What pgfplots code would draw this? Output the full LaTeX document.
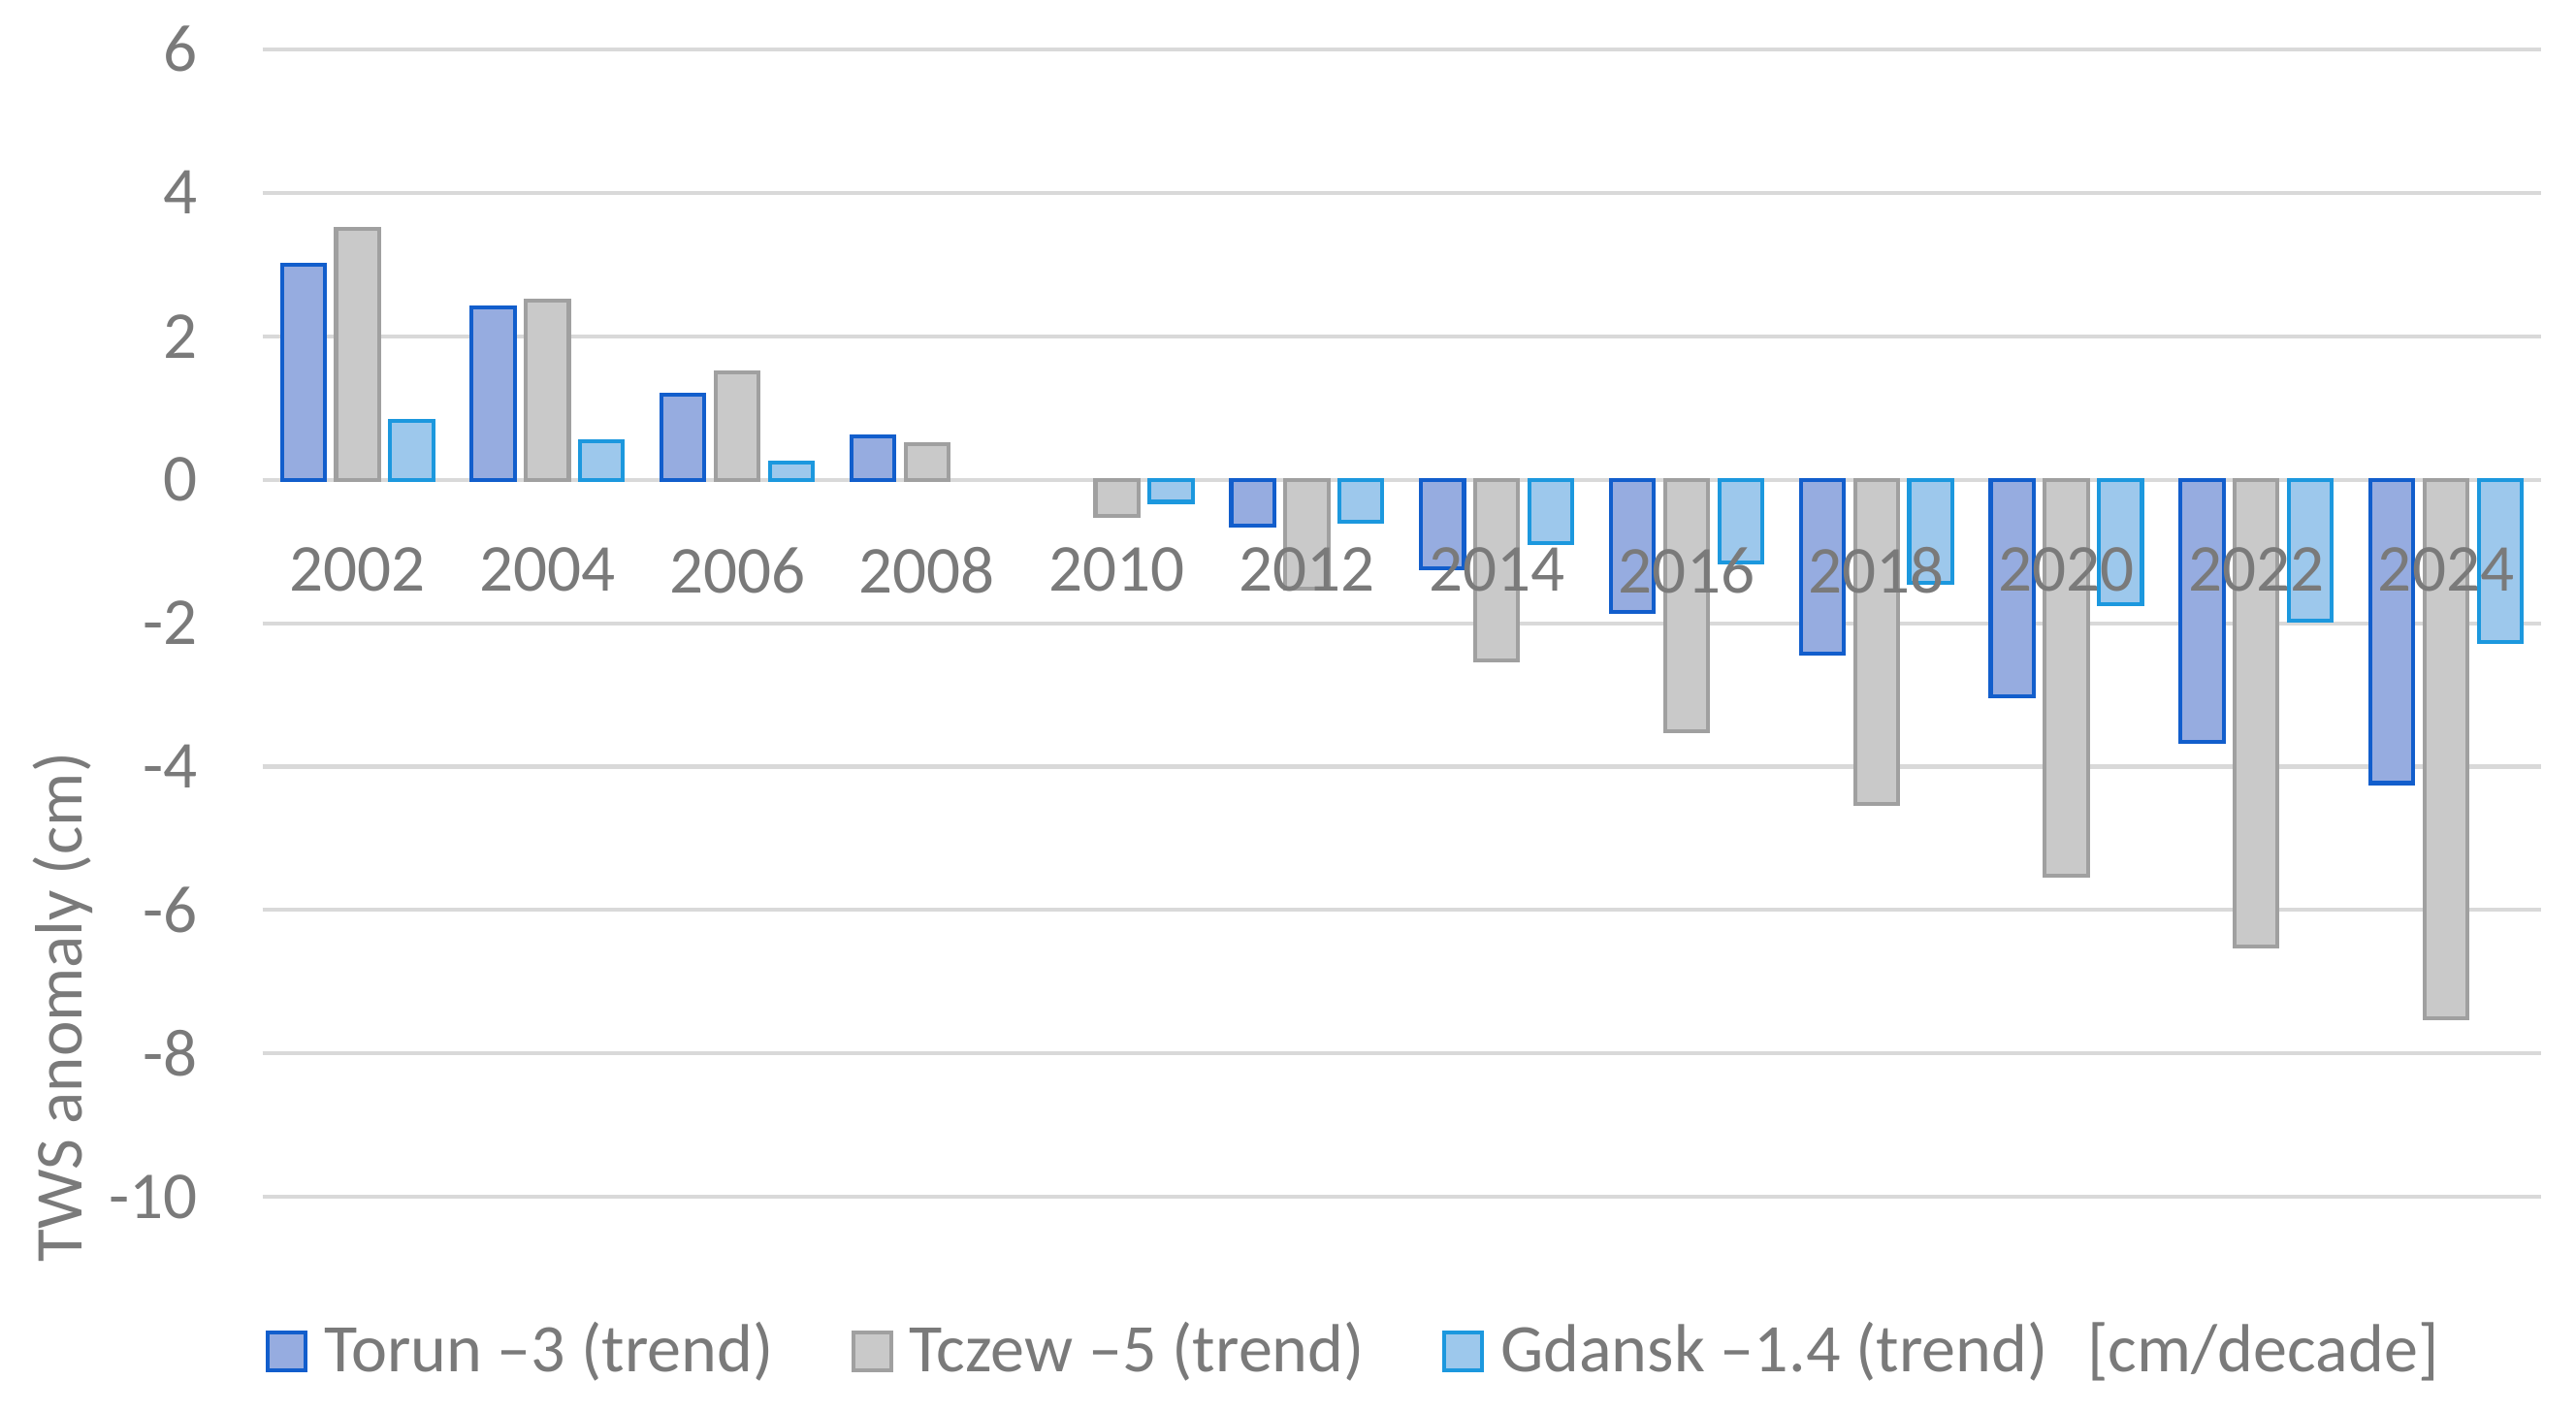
\documentclass[border=0pt]{standalone}
\usepackage{pgfplots}
\usepackage{pgfplotstable}
\pgfplotsset{compat=1.18}
\usepackage{fontspec}
\setmainfont{Carlito}
\definecolor{txt}{RGB}{122,122,122}
\definecolor{grd}{RGB}{217,217,217}
\definecolor{torF}{RGB}{150,172,224}
\definecolor{torD}{RGB}{18,94,204}
\definecolor{tczF}{RGB}{201,201,201}
\definecolor{tczD}{RGB}{160,160,160}
\definecolor{gdaF}{RGB}{157,200,236}
\definecolor{gdaD}{RGB}{28,152,222}
\newcommand\chartfont{\fontsize{10.15pt}{12pt}\selectfont}
\newcommand\legfont{\fontsize{10.3pt}{12pt}\selectfont}
\pgfplotstableread{
x y
0 3.0
1 2.4
2 1.18
3 0.6
5 -0.64
6 -1.23
7 -1.84
8 -2.43
9 -3.02
10 -3.65
11 -4.23
}\torun
\pgfplotstableread{
x y
0 3.5
1 2.5
2 1.5
3 0.5
4 -0.51
5 -1.52
6 -2.52
7 -3.51
8 -4.52
9 -5.52
10 -6.51
11 -7.51
}\tczew
\pgfplotstableread{
x y
0 0.82
1 0.54
2 0.24
4 -0.31
5 -0.59
6 -0.89
7 -1.15
8 -1.44
9 -1.73
10 -1.97
11 -2.26
}\gdansk
\begin{document}
\begin{tikzpicture}
\begin{axis}[
 set layers=standard,
 scale only axis, width=344.95pt, height=173.8pt,
 xmin=-0.5, xmax=11.5, ymin=-10, ymax=6,
 ytick={-10,-8,-6,-4,-2,0,2,4,6},
 xtick={0,1,2,3,4,5,6,7,8,9,10,11},
 xticklabels={2002,2004,2006,2008,2010,2012,2014,2016,2018,2020,2022,2024},
 axis x line*=middle, axis y line*=left,
 axis line style={draw=none},
 major tick length=0pt,
 ymajorgrids, grid style={grd, line width=0.6pt},
 ybar=1.7pt, bar width=6.5pt,
 ticklabel style={font=\chartfont, text=txt, inner sep=0pt},
 yticklabel style={xshift=-9.6pt, anchor=east},
 xticklabel style={yshift=-10.1pt, anchor=north, /pgfplots/on layer=axis foreground},
 /pgf/number format/assume math mode=true,
 ylabel={TWS anomaly (cm)},
 every axis y label/.style={at={(rel axis cs:-0.0877,0.1654)},rotate=90,anchor=center,font=\chartfont,text=txt},
 legend style={at={(rel axis cs:0.00145,-0.1347)}, anchor=west, draw=none, fill=none,
   inner sep=0pt, outer sep=0pt, font=\legfont, text=txt, nodes={inner sep=0pt},
   /tikz/every odd column/.append style={column sep=2.5pt},
   /tikz/every even column/.append style={column sep=11.8pt}},
 legend columns=-1, legend cell align=left,
 clip=false,
]
\path (rel axis cs:-0.11523,-0.18642) rectangle (rel axis cs:1.01537,1.04287);
\addplot[fill=torF, draw=torD, line width=0.6pt,
  legend image code/.code={\draw[fill=torF, draw=torD, line width=0.6pt] (0pt,-2.85pt) rectangle (5.7pt,2.85pt);}]
  table[x=x,y=y]{\torun};
\addlegendentry{Torun –3 (trend)}
\addplot[fill=tczF, draw=tczD, line width=0.6pt,
  legend image code/.code={\draw[fill=tczF, draw=tczD, line width=0.6pt] (0pt,-2.85pt) rectangle (5.7pt,2.85pt);}]
  table[x=x,y=y]{\tczew};
\addlegendentry{Tczew –5 (trend)}
\addplot[fill=gdaF, draw=gdaD, line width=0.6pt,
  legend image code/.code={\draw[fill=gdaF, draw=gdaD, line width=0.6pt] (0pt,-2.85pt) rectangle (5.7pt,2.85pt);}]
  table[x=x,y=y]{\gdansk};
\addlegendentry{Gdansk –1.4 (trend)\hspace{6pt}[cm/decade]}
\end{axis}
\end{tikzpicture}
\end{document}
